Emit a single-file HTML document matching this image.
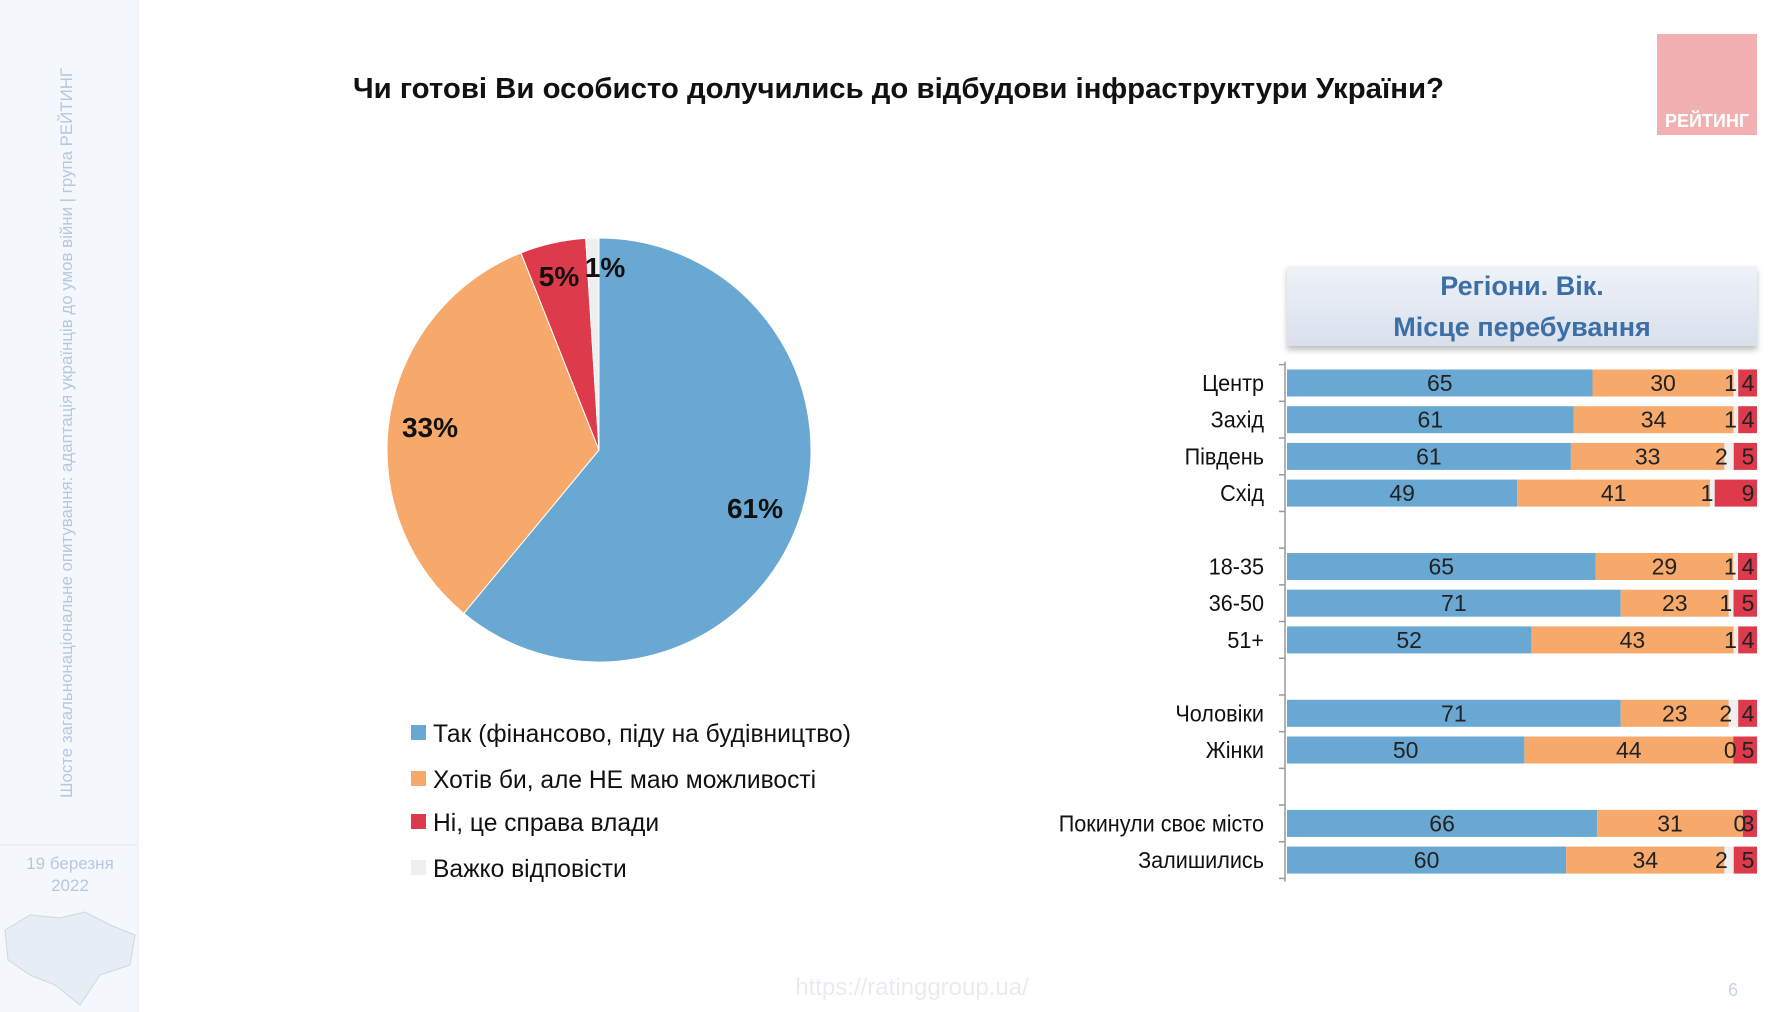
<!DOCTYPE html>
<html><head><meta charset="utf-8">
<style>
html,body{margin:0;padding:0;background:#fff;}
svg{display:block;font-family:"Liberation Sans","Noto Sans CJK SC",sans-serif;}
</style></head>
<body>
<svg id="chart" width="1786" height="1012" viewBox="0 0 1786 1012" xmlns="http://www.w3.org/2000/svg">
<defs>
<linearGradient id="hdr" x1="0" y1="0" x2="0" y2="1"><stop offset="0" stop-color="#eef2f8"/><stop offset="1" stop-color="#d9e0ec"/></linearGradient>
<filter id="sh" x="-5%" y="-10%" width="110%" height="130%"><feDropShadow dx="0" dy="4" stdDeviation="3" flood-color="#000" flood-opacity="0.25"/></filter>
</defs>
<rect x="0" y="0" width="138" height="1012" fill="#f4f7fb"/>
<line x1="138" y1="0" x2="138" y2="1012" stroke="#e8edf4"/>
<text transform="translate(72,798) rotate(-90)" font-size="17" fill="#b8c7dd" textLength="730" lengthAdjust="spacingAndGlyphs">Шосте загальнонаціональне опитування: адаптація українців до умов війни | група РЕЙТИНГ</text>
<line x1="0" y1="845" x2="138" y2="845" stroke="#e3e9f2"/>
<text x="70" y="869" font-size="17" fill="#b8c7dd" text-anchor="middle">19 березня</text>
<text x="70" y="891" font-size="17" fill="#b8c7dd" text-anchor="middle">2022</text>
<path d="M5 930 L30 915 L60 918 L85 912 L110 925 L135 935 L130 965 L100 975 L80 1005 L55 985 L30 975 L8 960 Z" fill="#e6edf5" stroke="#cdd8e6"/>

<text x="353" y="98" font-size="29" font-weight="bold" fill="#111" textLength="1091" lengthAdjust="spacingAndGlyphs">Чи готові Ви особисто долучились до відбудови інфраструктури України?</text>

<rect x="1657" y="34" width="100" height="101" fill="#f2b0b0"/>
<text x="1707" y="127" font-size="18" font-weight="bold" fill="#fff" text-anchor="middle">РЕЙТИНГ</text>

<g id="pie"></g>
<g id="legend"></g>

<g filter="url(#sh)"><rect x="1287" y="266" width="470" height="80" fill="url(#hdr)"/></g>
<text x="1522" y="295" font-size="27" font-weight="bold" fill="#3b6fa6" text-anchor="middle">Регіони. Вік.</text>
<text x="1522" y="336" font-size="27" font-weight="bold" fill="#3b6fa6" text-anchor="middle">Місце перебування</text>

<g id="bars"></g>

<text x="912" y="995" font-size="24" fill="#e8ecf2" text-anchor="middle">https://ratinggroup.ua/</text>
<text x="1733" y="996" font-size="18" fill="#c8d4e4" text-anchor="middle">6</text>
</svg>
<script>
const NS='http://www.w3.org/2000/svg';
const pieNames=['Так (фінансово, піду на будівництво)','Хотів би, але НЕ маю можливості','Ні, це справа влади','Важко відповісти'];
const pieValues=[61,33,5,1];
const pieLabels=['61%','33%','5%','1%'];
const colors=['#69a8d2','#f7a96c','#dd3a4c','#efefef'];

const barCats=['Центр','Захід','Південь','Схід','18-35','36-50','51+','Чоловіки','Жінки','Покинули своє місто','Залишились'];
const barSlots=[0,1,2,3,5,6,7,9,10,12,13];
const serYes=[65,61,61,49,65,71,52,71,50,66,60];
const serWant=[30,34,33,41,29,23,43,23,44,31,34];
const serHard=[1,1,2,1,1,1,1,2,0,0,2];
const serNo=[4,4,5,9,4,5,4,4,5,3,5];

function mk(tag,attrs,parent){const e=document.createElementNS(NS,tag);for(const k in attrs)e.setAttribute(k,attrs[k]);parent.appendChild(e);return e;}

// pie
const pie=document.getElementById('pie');
const cx=599,cy=450,r=212;
const total=pieValues.reduce((a,b)=>a+b,0);
const labelPos=[0.75,0.75,0.85,0.9];
let acc=0;
pieValues.forEach((v,i)=>{
  const a0=acc/total*2*Math.PI, a1=(acc+v)/total*2*Math.PI;
  const x0=cx+r*Math.sin(a0),y0=cy-r*Math.cos(a0),x1=cx+r*Math.sin(a1),y1=cy-r*Math.cos(a1);
  const large=(a1-a0)>Math.PI?1:0;
  const p=mk('path',{d:`M${cx} ${cy} L${x0} ${y0} A${r} ${r} 0 ${large} 1 ${x1} ${y1} Z`,fill:colors[i],stroke:'#fff','stroke-width':1},pie);
  
  
  const am=(a0+a1)/2;
  let rr=r*labelPos[i];
  let lx=cx+rr*Math.sin(am), ly=cy-rr*Math.cos(am);
  if(i===0){lx=755;ly=508;} if(i===1){lx=430;ly=427;}
  if(i===2){lx=559;ly=276;} if(i===3){lx=605;ly=267;}
  const t=mk('text',{x:lx,y:ly+10,'font-size':28,'font-weight':'bold',fill:'#111','text-anchor':'middle'},pie);
  t.textContent=pieLabels[i];
  
  
  acc+=v;
});
// legend
const lg=document.getElementById('legend');
const legY=[734,780,823,869];
pieNames.forEach((n,i)=>{
  const s=mk('rect',{x:411,y:legY[i]-9,width:15,height:15,fill:colors[i]},lg);
  
  
  const t=mk('text',{x:433,y:legY[i]+8,'font-size':24.6,fill:'#111'},lg);
  t.textContent=n;
  
  
});
// bars
const bars=document.getElementById('bars');
const x0=1287, W=470, y0=383, slot=36.7, bh=27;
const ys=s=>y0+s*slot;
mk('line',{x1:x0-2,y1:ys(-0.5)-3,x2:x0-2,y2:ys(13.5)+3,stroke:'#999','stroke-width':1.5},bars);
for(let s=-0.5;s<=13.5;s+=1){mk('line',{x1:x0-8,y1:ys(s),x2:x0-2,y2:ys(s),stroke:'#999','stroke-width':1.5},bars);}
const series=[serYes,serWant,serHard,serNo];
const segCols=['#69a8d2','#f7a96c','#efefef','#dd3a4c'];
barCats.forEach((c,i)=>{
  const yc=ys(barSlots[i]);
  const rowTotal=series.reduce((s,ser)=>s+ser[i],0);
  const xs=v=>x0+v/rowTotal*W;
  const lab=mk('text',{x:1264,y:yc+8,'font-size':23,fill:'#111','text-anchor':'end',transform:`translate(1264 0) scale(0.94 1) translate(-1264 0)`},bars);
  lab.textContent=c;
  
  
  let a=0;
  series.forEach((ser,k)=>{
    const v=ser[i];
    const rc=mk('rect',{x:xs(a),y:yc-bh/2,width:Math.max(0,xs(a+v)-xs(a)),height:bh,fill:segCols[k]},bars);
    
    
    a+=v;
  });
  a=0;
  series.forEach((ser,k)=>{
    const v=ser[i];
    let tx=(xs(a)+xs(a+v))/2;
    if(k===2) tx=xs(a)-3;
    if(k===3) tx=xs(a+v)-9;
    const t=mk('text',{x:tx,y:yc+8,'font-size':23,fill:'#222','text-anchor':'middle'},bars);
    t.textContent=v;
    
    
    a+=v;
  });
});
</script>
</body></html>
